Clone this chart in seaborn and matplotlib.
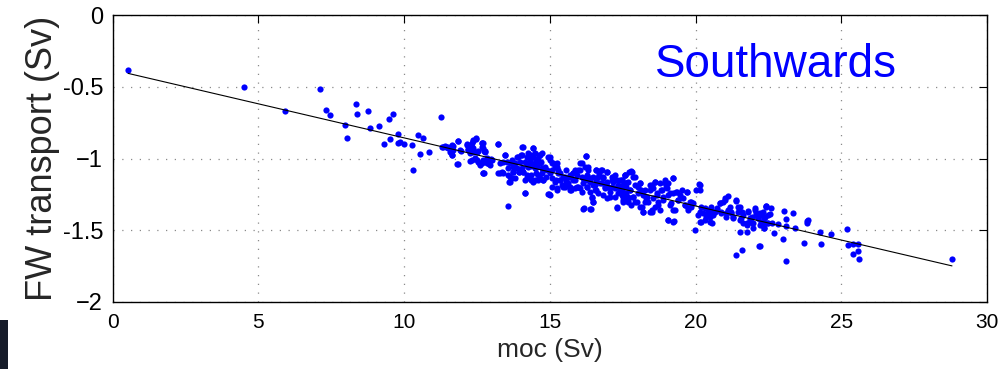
import numpy as np
import pandas as pd
import matplotlib
matplotlib.use("Agg")
import matplotlib.pyplot as plt
import seaborn as sns
from matplotlib.patches import Rectangle

# ---- data (moc in Sv, FW transport in Sv) ----
moc_sparse = [0.53, 4.49, 5.92, 7.10, 7.33, 7.47, 8.35, 8.37, 8.75, 7.97, 8.04, 8.83, 9.15, 9.49,
              9.62, 9.31, 9.51, 9.78, 9.78, 9.86, 9.99, 10.27, 10.29, 10.48, 10.66, 10.54, 10.87,
              11.25, 11.32, 11.43, 11.51, 11.57, 11.66, 11.63, 11.84, 11.84, 11.95, 12.16, 12.20,
              12.35, 12.45, 12.32, 12.26, 12.37, 12.54, 12.68, 12.74, 12.49, 12.62, 12.71, 12.83, 12.90]
fw_sparse = [-0.386, -0.504, -0.667, -0.518, -0.664, -0.699, -0.618, -0.690, -0.667, -0.764, -0.857,
             -0.787, -0.771, -0.722, -0.688, -0.897, -0.862, -0.827, -0.894, -0.883, -0.897, -0.906,
             -1.080, -0.834, -0.855, -0.969, -0.955, -0.709, -0.918, -0.918, -0.929, -0.952, -0.913,
             -0.976, -0.876, -1.038, -0.945, -0.899, -0.936, -0.880, -0.864, -0.918, -1.015, -0.952,
             -0.945, -0.890, -0.945, -1.010, -1.041, -1.103, -1.006, -1.034]

moc_b = [11.29, 11.40, 11.52, 11.63, 11.69, 11.63, 11.86, 11.80, 11.92, 12.14, 12.20, 12.26, 12.32,
         12.37, 12.47, 12.37, 12.49, 12.32, 12.43, 12.54, 12.66, 12.72, 12.77, 12.60, 12.72, 12.83,
         12.89, 13.00, 12.95, 13.21, 13.23, 13.35, 13.46, 13.52, 13.57, 13.63, 13.61, 13.69, 13.75,
         13.80, 13.92, 13.95, 12.69, 12.66, 12.77, 12.71, 12.66, 12.74, 12.83, 12.89, 12.98, 13.21,
         13.29, 13.46, 13.40, 13.57, 13.57, 13.63, 13.69, 13.74, 13.74, 13.63, 13.69, 13.80, 13.86,
         13.97, 14.00, 14.06]
fw_b = [-0.918, -0.913, -0.918, -0.906, -0.941, -0.976, -0.876, -1.039, -0.941, -0.906, -0.941,
        -0.964, -0.895, -0.871, -0.860, -0.929, -0.953, -1.011, -0.999, -1.022, -0.895, -0.929,
        -0.953, -1.045, -1.104, -0.999, -1.034, -1.011, -1.045, -0.899, -1.099, -1.092, -0.976,
        -1.022, -1.069, -1.127, -1.162, -1.034, -1.092, -1.139, -0.987, -1.092, -0.890, -0.918,
        -0.945, -1.010, -1.034, -1.099, -1.034, -1.029, -1.006, -0.899, -1.099, -0.976, -1.103,
        -1.331, -1.115, -1.162, -1.138, -1.092, -1.057, -1.029, -1.010, -1.034, -0.992, -1.022,
        -0.976, -0.922]

moc_c = [13.95, 14.07, 14.14, 14.14, 14.20, 14.26, 14.32, 14.37, 14.41, 14.43, 14.49, 14.55, 14.60,
         14.64, 14.66, 14.72, 14.37, 14.43, 14.60, 14.77, 14.72, 14.77, 14.94, 15.00, 15.06, 15.17,
         15.23, 15.29, 15.34, 15.06, 14.94, 15.00, 15.23, 15.40, 15.52, 15.57, 15.63, 15.69, 15.74,
         15.80, 15.86, 15.92, 16.03, 16.09, 16.14, 16.03, 16.24, 16.20, 16.32, 16.37, 16.26, 16.43,
         16.49, 16.37, 16.55, 16.60, 16.60, 16.69, 16.77, 16.83, 16.95, 17.00, 16.95, 17.12, 17.06,
         17.17, 17.23, 17.29, 17.35, 17.40, 17.46, 17.52, 17.57, 17.63, 17.69, 17.72, 16.17, 16.40,
         15.52, 15.69, 15.92, 16.60, 13.29, 13.40, 13.86, 14.03, 14.20, 14.32, 14.49, 14.60, 14.72,
         14.83, 14.89, 15.02, 15.21, 15.34, 15.57, 15.80, 16.03, 16.26, 16.49, 16.72, 16.89, 17.12,
         17.29, 17.40, 17.63, 17.69, 17.52]
fw_c = [-1.092, -1.092, -1.243, -1.150, -1.115, -0.964, -1.010, -1.052, -0.929, -0.987, -1.029,
        -1.057, -0.999, -0.976, -1.034, -0.964, -1.150, -1.162, -1.150, -1.150, -1.103, -1.080,
        -0.987, -1.011, -1.034, -1.057, -1.034, -1.080, -1.103, -1.138, -1.247, -1.255, -1.208,
        -1.185, -1.127, -1.150, -1.173, -1.115, -1.220, -1.150, -1.080, -1.115, -1.034, -1.127,
        -1.173, -1.208, -0.980, -1.057, -1.080, -1.138, -1.196, -1.266, -1.301, -1.231, -1.185,
        -1.150, -1.080, -1.108, -1.080, -1.138, -1.092, -1.196, -1.162, -1.150, -1.266, -1.127,
        -1.208, -1.347, -1.243, -1.196, -1.150, -1.185, -1.115, -1.243, -1.162, -1.092, -1.347,
        -1.350, -1.196, -1.196, -1.196, -1.220, -1.034, -1.022, -1.068, -1.068, -1.045, -1.138,
        -1.150, -1.115, -1.068, -1.057, -1.080, -1.103, -1.150, -1.150, -1.080, -1.103, -1.080,
        -1.150, -1.127, -1.173, -1.196, -1.196, -1.150, -1.220, -1.196, -1.289, -1.289]

moc_d = [14.08, 14.43, 14.03, 14.20, 14.37, 14.48, 14.66, 14.14, 14.31, 14.54, 14.71, 14.26, 14.48,
         14.08, 14.20, 14.37, 14.54, 14.66, 14.77, 14.88, 14.14, 15.00, 15.11, 15.06, 15.23, 15.29,
         15.17, 15.34, 15.46, 14.98, 15.06, 15.23, 15.46, 15.57, 15.69, 15.80, 15.86, 15.97, 16.09,
         16.23, 16.14, 16.26, 16.31, 16.37, 16.49, 16.60, 16.66, 16.54, 16.43, 16.49, 16.14, 16.39,
         15.69, 15.86, 15.97, 16.09, 16.26, 16.66]
fw_d = [-0.922, -0.929, -0.976, -0.987, -0.976, -0.964, -0.976, -1.022, -1.022, -1.011, -1.022,
        -1.057, -1.069, -1.092, -1.138, -1.115, -1.104, -1.138, -1.150, -1.127, -1.238, -0.987,
        -1.034, -1.080, -1.057, -1.104, -1.162, -1.150, -1.127, -1.248, -1.197, -1.220, -1.197,
        -1.162, -1.127, -1.104, -1.150, -1.080, -1.034, -0.983, -1.139, -1.115, -1.057, -1.162,
        -1.185, -1.080, -1.127, -1.220, -1.278, -1.301, -1.350, -1.354, -1.220, -1.208, -1.197,
        -1.231, -1.197, -1.243]

moc_e = [16.78, 16.95, 16.83, 16.78, 16.89, 16.83, 16.95, 17.12, 17.23, 17.18, 17.06, 17.23, 17.29,
         17.35, 17.41, 17.46, 17.52, 17.58, 17.63, 17.69, 17.75, 17.81, 17.86, 17.86, 17.92, 17.98,
         18.04, 18.09, 18.15, 18.21, 18.26, 18.32, 18.38, 18.44, 18.49, 18.55, 18.61, 18.66, 18.72,
         18.78, 18.84, 18.89, 18.95, 19.01, 19.06, 19.12, 19.21, 19.24, 19.29, 19.35, 19.41, 19.06,
         19.24, 18.44]
fw_e = [-1.080, -1.091, -1.126, -1.173, -1.207, -1.254, -1.277, -1.126, -1.115, -1.161, -1.231,
        -1.266, -1.340, -1.184, -1.149, -1.219, -1.266, -1.115, -1.173, -1.300, -1.219, -1.091,
        -1.126, -1.266, -1.184, -1.300, -1.242, -1.173, -1.335, -1.370, -1.219, -1.266, -1.300,
        -1.184, -1.358, -1.277, -1.161, -1.242, -1.324, -1.358, -1.219, -1.289, -1.173, -1.207,
        -1.254, -1.324, -1.138, -1.242, -1.358, -1.231, -1.289, -1.428, -1.440, -1.370]

moc_f = [17.57, 17.46, 17.51, 17.80, 17.91, 17.63, 17.74, 17.69, 17.46, 17.51, 17.86, 17.91, 17.80,
         18.03, 18.09, 18.14, 18.20, 18.26, 18.09, 18.20, 18.31, 18.43, 18.49, 18.54, 18.60, 18.66,
         18.72, 18.60, 18.49, 18.77, 18.83, 18.89, 18.94, 19.00, 19.06, 19.12, 19.21, 19.17, 19.23,
         19.06, 19.25, 19.34, 19.40, 19.46, 19.52, 19.57, 19.63, 19.69, 19.74, 19.80, 19.86, 19.92,
         19.97, 20.03, 20.12, 20.14, 20.20, 20.26, 20.32, 20.37, 20.43, 20.49, 20.54, 20.60, 20.66,
         20.72, 20.83, 20.89, 20.94, 21.00, 21.12, 21.06, 21.17, 21.23, 21.29, 21.40, 21.46, 21.52,
         21.57, 21.54, 21.63, 21.75, 21.76, 21.80, 21.86, 21.92, 21.97, 22.03, 22.09, 22.15, 22.20,
         22.26, 22.32, 22.34, 22.43, 22.49, 21.40, 21.60, 22.16]
fw_f = [-1.115, -1.150, -1.196, -1.087, -1.127, -1.173, -1.219, -1.266, -1.254, -1.301, -1.266,
        -1.301, -1.324, -1.196, -1.173, -1.219, -1.254, -1.301, -1.336, -1.370, -1.277, -1.219,
        -1.185, -1.208, -1.161, -1.254, -1.301, -1.336, -1.370, -1.173, -1.219, -1.266, -1.150,
        -1.196, -1.173, -1.243, -1.138, -1.312, -1.359, -1.429, -1.435, -1.231, -1.289, -1.254,
        -1.219, -1.277, -1.324, -1.231, -1.347, -1.301, -1.336, -1.312, -1.498, -1.219, -1.180,
        -1.370, -1.440, -1.382, -1.347, -1.405, -1.359, -1.440, -1.336, -1.394, -1.370, -1.347,
        -1.312, -1.370, -1.301, -1.277, -1.259, -1.382, -1.336, -1.370, -1.405, -1.296, -1.370,
        -1.336, -1.417, -1.512, -1.394, -1.452, -1.512, -1.363, -1.429, -1.405, -1.452, -1.359,
        -1.394, -1.417, -1.382, -1.440, -1.452, -1.484, -1.329, -1.394, -1.670, -1.638, -1.610]

moc_g = [19.69, 19.63, 19.75, 19.86, 20.15, 20.15, 20.20, 20.09, 20.15, 20.32, 20.43, 20.49, 20.55,
         20.60, 20.72, 20.83, 20.89, 21.00, 21.06, 21.12, 21.23, 21.29, 21.40, 21.46, 21.52, 21.58,
         21.63, 21.75, 21.80, 21.86, 21.92, 21.98, 22.03, 22.09, 22.15, 22.20, 22.32, 22.38, 22.43,
         22.49]
fw_g = [-1.231, -1.324, -1.359, -1.301, -1.185, -1.219, -1.336, -1.394, -1.440, -1.429, -1.382,
        -1.405, -1.452, -1.370, -1.359, -1.312, -1.382, -1.289, -1.405, -1.359, -1.382, -1.417,
        -1.289, -1.336, -1.429, -1.370, -1.452, -1.463, -1.370, -1.417, -1.452, -1.487, -1.347,
        -1.382, -1.417, -1.463, -1.440, -1.405, -1.336, -1.452]

moc_tail = [22.27, 22.32, 22.35, 22.43, 22.59, 22.55, 22.27, 22.44, 22.64, 22.84, 22.34, 22.69, 22.21,
            23.02, 23.36, 23.10, 23.10, 23.40, 23.83, 23.86, 23.81, 24.27, 24.65, 25.21, 23.00, 23.72,
            24.31, 25.22, 25.41, 25.56, 25.57, 25.41, 25.61, 23.12, 28.80]
fw_tail = [-1.394, -1.375, -1.417, -1.329, -1.347, -1.387, -1.440, -1.452, -1.452, -1.459, -1.482,
           -1.517, -1.610, -1.368, -1.377, -1.419, -1.468, -1.482, -1.433, -1.426, -1.452, -1.514,
           -1.526, -1.493, -1.563, -1.586, -1.596, -1.605, -1.593, -1.596, -1.642, -1.668, -1.700,
           -1.714, -1.698]

x_ticks = [0, 5, 10, 15, 20, 25, 30]
x_ticklabels = ["0", "5", "10", "15", "20", "25", "30"]
y_ticks = [0, -0.5, -1, -1.5, -2]
y_ticklabels = ["0", "-0.5", "\u22121", "-1.5", "\u22122"]
x_label = "moc (Sv)"
y_label = "FW transport (Sv)"
annotation = "Southwards"

df = pd.DataFrame({
    "moc": moc_sparse + moc_b + moc_c + moc_d + moc_e + moc_f + moc_g + moc_tail,
    "fw": fw_sparse + fw_b + fw_c + fw_d + fw_e + fw_f + fw_g + fw_tail,
})

sns.set_style("white")
plt.rcParams["font.family"] = ["Liberation Sans", "DejaVu Sans"]

fig = plt.figure(figsize=(10.02, 3.69), dpi=100)
ax = fig.add_axes([0.1125, 0.1816, 0.8725, 0.7777])

sns.regplot(data=df, x="moc", y="fw", ax=ax, ci=None, truncate=True,
            scatter_kws=dict(s=20, color="#0000ff", linewidths=0, alpha=1),
            line_kws=dict(color="black", lw=0.8))

ax.set_xlim(0, 30)
ax.set_ylim(-2, 0)
ax.set_xticks(x_ticks)
ax.set_xticklabels(x_ticklabels)
ax.set_yticks(y_ticks)
ax.set_yticklabels(y_ticklabels)
ax.grid(True, color="#8a8a8a", linestyle=(0, (1, 6)), linewidth=0.9)
ax.set_axisbelow(True)

for sp in ax.spines.values():
    sp.set_visible(True)
    sp.set_color("black")
    sp.set_linewidth(1.0)

ax.tick_params(axis="both", direction="in", length=6, width=0.8, colors="black",
               top=True, right=True)
ax.tick_params(axis="x", labelsize=15, pad=8)
ax.tick_params(axis="y", labelsize=17, pad=7)

ax.set_xlabel(x_label, fontsize=19, labelpad=4)
ax.set_ylabel(y_label, fontsize=26, labelpad=2)

ax.text(0.759, 0.784, annotation, transform=ax.transAxes, ha="center", va="baseline",
        color="#0000ff", fontsize=33)

fig.add_artist(Rectangle((0, 0), 8 / 1002, 49 / 369, transform=fig.transFigure,
                         facecolor="#161b29", edgecolor="none"))

fig.savefig("out.png", dpi=100)
